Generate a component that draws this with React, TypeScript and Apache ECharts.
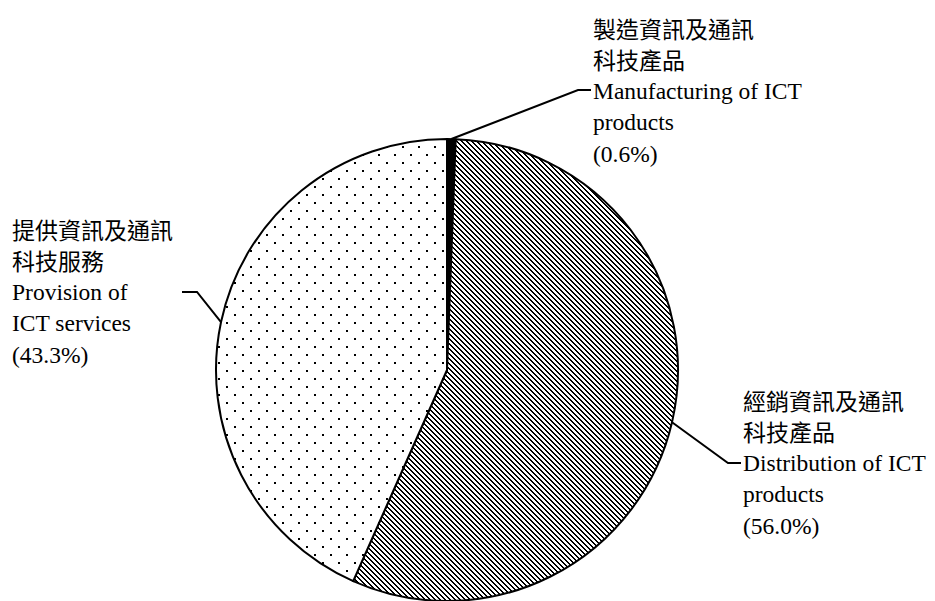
import React, { useEffect, useRef } from "react";
import * as echarts from "echarts";

// ---- data ----
const zhNames = [
  ["製造資訊及通訊", "科技產品"],
  ["經銷資訊及通訊", "科技產品"],
  ["提供資訊及通訊", "科技服務"],
];
const enNames = [
  ["Manufacturing of ICT", "products"],
  ["Distribution of ICT", "products"],
  ["Provision of", "ICT services"],
];
const shares = [0.6, 56.0, 43.3];

// label placements (layout only)
const placements = [
  { x: 593, y: 12, lineY: 90, elbowX: 578, endX: 591 },
  { x: 743, y: 384, lineY: 463, elbowX: 728, endX: 741 },
  { x: 12, y: 213, lineY: 292, elbowX: 197, endX: 182 },
];

function makeHatch(): HTMLCanvasElement {
  const P = 5;
  const c = document.createElement("canvas");
  c.width = P;
  c.height = P;
  const ctx = c.getContext("2d")!;
  ctx.fillStyle = "#fff";
  ctx.fillRect(0, 0, P, P);
  ctx.fillStyle = "#000";
  for (let y = 0; y < P; y++) {
    for (let x = 0; x < P; x++) {
      const m = (((x - y) % P) + P) % P;
      if (m < 2) ctx.fillRect(x, y, 1, 1);
    }
  }
  return c;
}

function makeDots(): HTMLCanvasElement {
  const c = document.createElement("canvas");
  c.width = 16;
  c.height = 16;
  const ctx = c.getContext("2d")!;
  ctx.fillStyle = "#fff";
  ctx.fillRect(0, 0, 16, 16);
  ctx.fillStyle = "#000";
  ctx.fillRect(2, 2, 2, 2);
  ctx.fillRect(10, 10, 2, 2);
  return c;
}

export default function App() {
  const ref = useRef<HTMLDivElement>(null);
  useEffect(() => {
    if (!ref.current) return;
    const chart = echarts.init(ref.current, null, { renderer: "svg" });
    const fills: any[] = [
      "#000",
      { image: makeHatch(), repeat: "repeat" },
      { image: makeDots(), repeat: "repeat" },
    ];
    const data = shares.map((v, i) => ({
      value: v,
      name: enNames[i].join(" "),
      itemStyle: { color: fills[i] },
    }));
    const lh = 31.5;
    chart.setOption({
      animation: false,
      backgroundColor: "#fff",
      series: [
        {
          type: "pie",
          center: [447, 370],
          radius: 231,
          startAngle: 90,
          clockwise: true,
          avoidLabelOverlap: false,
          data,
          itemStyle: { borderColor: "#000", borderWidth: 2 },
          emphasis: { disabled: true },
          label: {
            show: true,
            position: "outside",
            color: "#000",
            formatter: (p: any) => {
              const i = p.dataIndex;
              const lines = [
                ...zhNames[i].map((s) => `{zh|${s}}`),
                ...enNames[i].map((s) => `{en|${s}}`),
                `{en|(${shares[i].toFixed(1)}%)}`,
              ];
              return lines.join("\n");
            },
            rich: {
              zh: {
                fontFamily: "'Noto Sans CJK TC', serif",
                fontSize: 23,
                lineHeight: lh,
                color: "#000",
              },
              en: {
                fontFamily: "'Liberation Serif', 'Times New Roman', serif",
                fontSize: 23.5,
                lineHeight: lh,
                color: "#000",
              },
            },
          },
          labelLine: {
            show: true,
            length: 20,
            length2: 10,
            lineStyle: { color: "#000", width: 2 },
          },
          labelLayout: (params: any) => {
            const p = placements[params.dataIndex];
            const pts = params.labelLinePoints;
            const anchor = pts && pts[0] ? pts[0] : [p.elbowX, p.lineY];
            return {
              x: p.x,
              y: p.y,
              align: "left",
              verticalAlign: "top",
              labelLinePoints: [
                [anchor[0], anchor[1]],
                [p.elbowX, p.lineY],
                [p.endX, p.lineY],
              ],
            };
          },
        },
      ],
    });
    return () => chart.dispose();
  }, []);
  return (
    <div
      ref={ref}
      style={{ position: "fixed", left: 0, top: 0, width: 935, height: 601 }}
    />
  );
}
